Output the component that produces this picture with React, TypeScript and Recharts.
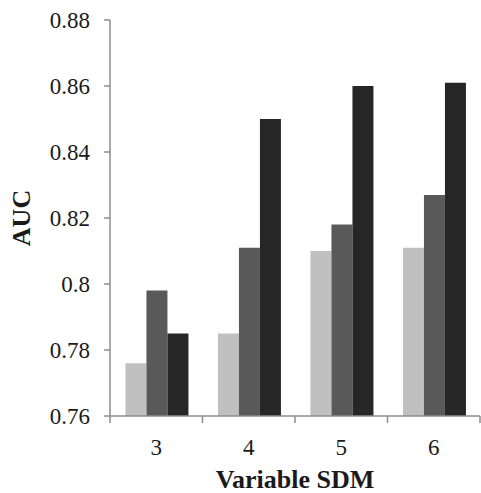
import React from 'react';
import { BarChart, Bar, XAxis, YAxis } from 'recharts';

// Variable SDM categories
const categories = ['3', '4', '5', '6'];
// AUC per series (light, mid, dark)
const seriesLight = [0.776, 0.785, 0.81, 0.811];
const seriesMid = [0.798, 0.811, 0.818, 0.827];
const seriesDark = [0.785, 0.85, 0.86, 0.861];
const yTicks = [0.76, 0.78, 0.8, 0.82, 0.84, 0.86, 0.88];

const W = 481;
const H = 493;
const LEFT = 110;
const RIGHT = 1;
const AXIS = '#8c8c8c';
const FONT = '"Liberation Serif", serif';
const X_MARGIN = 23;

const data = categories.map((c, i) => ({
  name: c,
  a: seriesLight[i],
  b: seriesMid[i],
  c: seriesDark[i],
}));

const half = (W - LEFT - RIGHT) / categories.length / 2;

// x ticks: label in the middle, tick marks on the category edges
const XTick = (props: any) => {
  const { x, y, payload, index } = props;
  const top = y - X_MARGIN;
  return (
    <g>
      <line x1={x - half} x2={x - half} y1={top} y2={top + 7} stroke={AXIS} strokeWidth={1.5} />
      {index === categories.length - 1 && (
        <line x1={x + half} x2={x + half} y1={top} y2={top + 7} stroke={AXIS} strokeWidth={1.5} />
      )}
      <text x={x} y={y} dy="0.71em" textAnchor="middle" fontFamily={FONT} fontSize={23} fill="#1a1a1a">
        {payload.value}
      </text>
    </g>
  );
};

const App = () => {
  return (
    <div style={{ position: 'absolute', left: 0, top: 0, background: '#fff' }}>
      <BarChart
        width={W}
        height={H}
        data={data}
        margin={{ top: 20, right: RIGHT, left: 0, bottom: 0 }}
        barCategoryGap="16.7%"
        barGap={0}
      >
        <XAxis
          dataKey="name"
          height={77}
          axisLine={{ stroke: AXIS, strokeWidth: 1.5 }}
          tickLine={false}
          tickSize={0}
          tickMargin={X_MARGIN}
          tick={<XTick />}
          interval={0}
          label={{
            value: 'Variable SDM',
            position: 'insideBottom',
            offset: 5,
            style: { fontFamily: FONT, fontSize: 26, fontWeight: 'bold', fill: '#1a1a1a' },
          }}
        />
        <YAxis
          width={LEFT}
          domain={[0.76, 0.88]}
          ticks={yTicks}
          interval={0}
          tickFormatter={(v: number) => String(v)}
          axisLine={{ stroke: AXIS, strokeWidth: 1.5 }}
          tickLine={{ stroke: AXIS, strokeWidth: 1.5 }}
          tickSize={6}
          tickMargin={14}
          tick={{ fontFamily: FONT, fontSize: 23, fill: '#1a1a1a' }}
          label={{
            value: 'AUC',
            content: () => (
              <text
                x={21}
                y={218}
                transform="rotate(-90 21 218)"
                textAnchor="middle"
                dominantBaseline="central"
                fontFamily={FONT}
                fontSize={26}
                fontWeight="bold"
                fill="#1a1a1a"
              >
                AUC
              </text>
            ),
          }}
        />
        <Bar dataKey="a" fill="#c0c0c0" isAnimationActive={false} />
        <Bar dataKey="b" fill="#595959" isAnimationActive={false} />
        <Bar dataKey="c" fill="#262626" isAnimationActive={false} />
      </BarChart>
    </div>
  );
};

export default App;
